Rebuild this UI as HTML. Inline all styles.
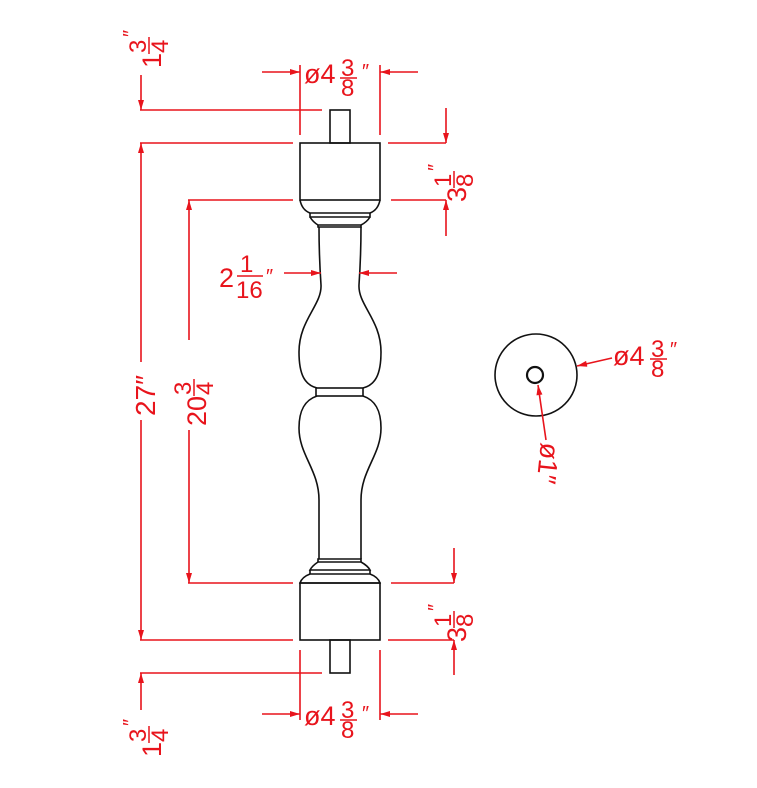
<!DOCTYPE html>
<html><head><style>
html,body{margin:0;padding:0;background:#fff;}
svg{display:block;}
text{font-family:"Liberation Sans",sans-serif;fill:#e8141c;}
</style></head><body>
<svg width="757" height="788" viewBox="0 0 757 788" xmlns="http://www.w3.org/2000/svg">
<defs>
<marker id="a" viewBox="0 0 10 6" refX="10" refY="3" markerWidth="16" markerHeight="6" markerUnits="userSpaceOnUse" orient="auto"><path d="M0,0L10,3L0,6z" fill="#e8141c"/></marker>
</defs>
<g fill="none" stroke="#111" stroke-width="1.6">
<rect x="330" y="110" width="20" height="33"/>
<rect x="300" y="143" width="80" height="57"/>
<path d="M300,200 Q302,210 310,213 L370,213 Q378,210 380,200"/>
<path d="M310,213 L310,217 L370,217 L370,213"/>
<path d="M310,217 Q313,222 318,225 L361,225 Q367,222 370,217"/>
<path d="M318,225 L318,227 L361,227 L361,225"/>
<path d="M319,227 C319,250 320,270 321,285 C322,305 299,320 299,352 C299,375 305,385 317,388"/>
<path d="M361,227 C361,250 360,270 359,285 C358,305 381,320 381,352 C381,375 375,385 363,388"/>
<rect x="316" y="388" width="47" height="8"/>
<path d="M317,396 C305,400 299,410 299,428 C299,455 319,470 319,500 L319,559"/>
<path d="M363,396 C375,400 381,410 381,428 C381,455 361,470 361,500 L361,559"/>
<path d="M318,559 L361,559 L361,562 L318,562 Z"/>
<path d="M318,562 Q312,566 310,570 L370,570 Q368,566 361,562"/>
<path d="M310,570 L310,574 L370,574 L370,570"/>
<path d="M310,574 Q302,577 300,583 L380,583 Q378,577 370,574"/>
<rect x="300" y="583" width="80" height="57"/>
<rect x="330" y="640" width="20" height="33"/>
<circle cx="536" cy="375" r="41"/>
<circle cx="535" cy="375" r="8" stroke-width="2.2"/>
</g>
<g stroke="#e8141c" stroke-width="1.6" fill="none">
<line x1="140" y1="110" x2="322" y2="110"/>
<line x1="140" y1="143" x2="293" y2="143"/>
<line x1="188" y1="200" x2="293" y2="200"/>
<line x1="388" y1="143" x2="446" y2="143"/>
<line x1="391" y1="200" x2="446" y2="200"/>
<line x1="188" y1="583" x2="293" y2="583"/>
<line x1="140" y1="640" x2="293" y2="640"/>
<line x1="140" y1="673" x2="322" y2="673"/>
<line x1="391" y1="583" x2="454" y2="583"/>
<line x1="388" y1="640" x2="454" y2="640"/>
<line x1="300" y1="65" x2="300" y2="135"/>
<line x1="380" y1="65" x2="380" y2="135"/>
<line x1="300" y1="650" x2="300" y2="720"/>
<line x1="380" y1="650" x2="380" y2="720"/>
<line x1="141" y1="75" x2="141" y2="110" marker-end="url(#a)"/>
<line x1="141" y1="710" x2="141" y2="673" marker-end="url(#a)"/>
<line x1="141" y1="362" x2="141" y2="143" marker-end="url(#a)"/>
<line x1="141" y1="420" x2="141" y2="640" marker-end="url(#a)"/>
<line x1="189" y1="340" x2="189" y2="200" marker-end="url(#a)"/>
<line x1="189" y1="430" x2="189" y2="583" marker-end="url(#a)"/>
<line x1="446" y1="108" x2="446" y2="143" marker-end="url(#a)"/>
<line x1="446" y1="236" x2="446" y2="200" marker-end="url(#a)"/>
<line x1="454" y1="548" x2="454" y2="583" marker-end="url(#a)"/>
<line x1="454" y1="675" x2="454" y2="640" marker-end="url(#a)"/>
<line x1="262" y1="72" x2="300" y2="72" marker-end="url(#a)"/>
<line x1="418" y1="72" x2="380" y2="72" marker-end="url(#a)"/>
<line x1="262" y1="714" x2="300" y2="714" marker-end="url(#a)"/>
<line x1="418" y1="714" x2="380" y2="714" marker-end="url(#a)"/>
<line x1="284" y1="273" x2="321" y2="273" marker-end="url(#a)"/>
<line x1="397" y1="273" x2="359" y2="273" marker-end="url(#a)"/>
<line x1="612" y1="358" x2="577" y2="366" marker-end="url(#a)"/>
<line x1="546" y1="440" x2="538" y2="385" marker-end="url(#a)"/>
</g>
<g font-size="27">
<text x="304" y="83">ø4</text><text x="341" y="76" font-size="24">3</text><line x1="340" y1="78" x2="357" y2="78" stroke="#e8141c" stroke-width="1.5"/><text x="341" y="96" font-size="24">8</text><text x="362" y="78" font-size="20">″</text>
<text x="304" y="725">ø4</text><text x="341" y="718" font-size="24">3</text><line x1="340" y1="720" x2="357" y2="720" stroke="#e8141c" stroke-width="1.5"/><text x="341" y="738" font-size="24">8</text><text x="362" y="720" font-size="20">″</text>
<text x="613" y="365">ø4</text><text x="651" y="357" font-size="24">3</text><line x1="650" y1="359" x2="667" y2="359" stroke="#e8141c" stroke-width="1.5"/><text x="651" y="377" font-size="24">8</text><text x="670" y="356" font-size="20">″</text>
<text x="219" y="287">2</text><text x="240" y="272" font-size="24">1</text><line x1="237" y1="276" x2="263" y2="276" stroke="#e8141c" stroke-width="1.5"/><text x="236" y="298" font-size="24">16</text><text x="266" y="283" font-size="20">″</text>
<g transform="translate(155,416) rotate(-90)"><text x="0" y="0" font-size="28">27″</text></g>
<g transform="translate(206,426) rotate(-90)"><text x="0" y="0">20</text><text x="31" y="-15" font-size="24">3</text><line x1="30" y1="-12" x2="47" y2="-12" stroke="#e8141c" stroke-width="1.5"/><text x="31" y="7" font-size="24">4</text></g>
<g transform="translate(161,68) rotate(-90)"><text x="0" y="0">1</text><text x="15" y="-15" font-size="24">3</text><line x1="14" y1="-12" x2="31" y2="-12" stroke="#e8141c" stroke-width="1.5"/><text x="15" y="7" font-size="24">4</text><text x="31" y="-24" font-size="20">″</text></g>
<g transform="translate(161,757) rotate(-90)"><text x="0" y="0">1</text><text x="15" y="-15" font-size="24">3</text><line x1="14" y1="-12" x2="31" y2="-12" stroke="#e8141c" stroke-width="1.5"/><text x="15" y="7" font-size="24">4</text><text x="31" y="-24" font-size="20">″</text></g>
<g transform="translate(466,202) rotate(-90)"><text x="0" y="0">3</text><text x="15" y="-15" font-size="24">1</text><line x1="14" y1="-12" x2="31" y2="-12" stroke="#e8141c" stroke-width="1.5"/><text x="15" y="7" font-size="24">8</text><text x="31" y="-24" font-size="20">″</text></g>
<g transform="translate(466,642) rotate(-90)"><text x="0" y="0">3</text><text x="15" y="-15" font-size="24">1</text><line x1="14" y1="-12" x2="31" y2="-12" stroke="#e8141c" stroke-width="1.5"/><text x="15" y="7" font-size="24">8</text><text x="31" y="-24" font-size="20">″</text></g>
<g transform="translate(541,442) rotate(96)"><text x="0" y="0" font-size="27">ø1″</text></g>
</g>
</svg>
</body></html>
